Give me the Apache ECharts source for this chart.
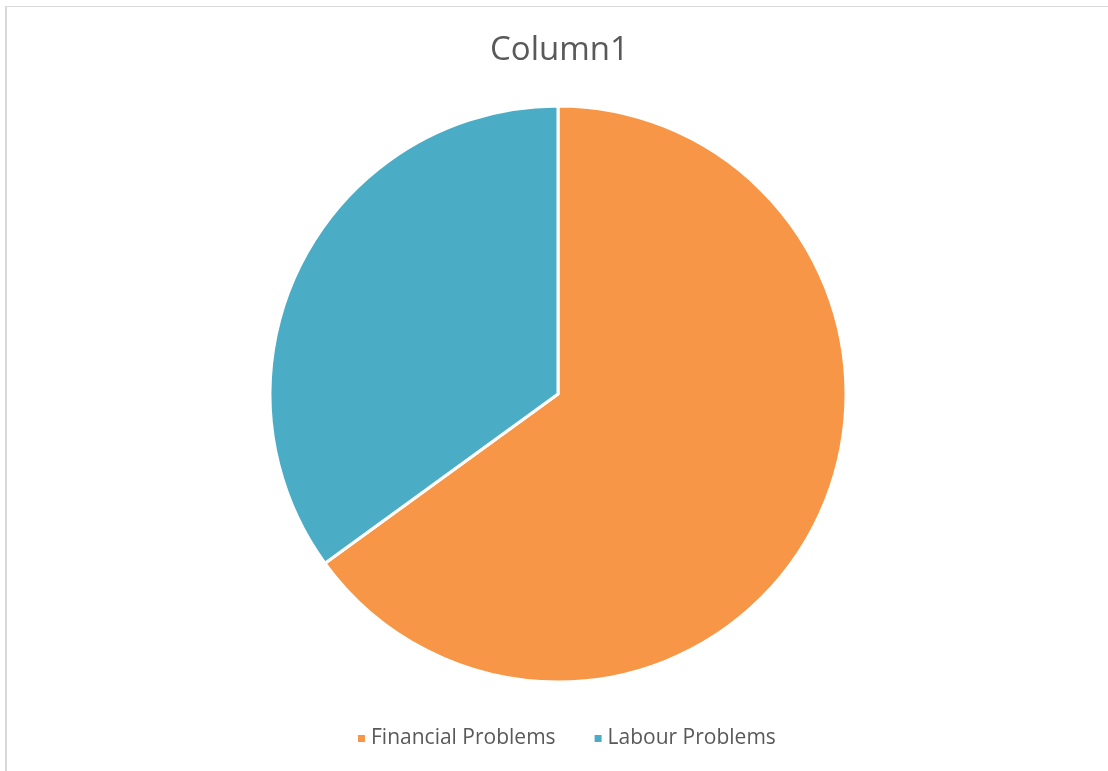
<!DOCTYPE html>
<html>
<head>
<meta charset="utf-8">
<script src="https://cdn.jsdelivr.net/npm/echarts@6/dist/echarts.min.js"></script>
<style>
  html, body { margin: 0; padding: 0; background: #ffffff; }
  #frame {
    position: absolute; left: 5px; top: 6px; width: 1120px; height: 780px;
    border-top: 1px solid #d9d9d9; border-left: 2px solid #d9d9d9;
  }
  #chart { position: absolute; left: 0; top: 0; width: 1108px; height: 771px; }
</style>
</head>
<body>
<div id="frame"></div>
<div id="chart"></div>
<script>
// Share of problems reported
const categories = ['Financial Problems', 'Labour Problems'];
const values = [65, 35];
const colors = ['#F79646', '#4BACC6'];

const chart = echarts.init(document.getElementById('chart'), null, { renderer: 'canvas' });
chart.setOption({
  animation: false,
  title: {
    text: 'Column1',
    left: 485,
    top: 29,
    textStyle: { fontFamily: 'Open Sans', fontSize: 33, fontWeight: 'normal', color: '#595959' }
  },
  legend: {
    bottom: 17,
    left: 351,
    icon: 'rect',
    itemWidth: 9,
    itemHeight: 9,
    itemGap: 37,
    textStyle: { fontFamily: 'Open Sans', fontSize: 21, color: '#595959' },
    data: categories
  },
  series: [{
    type: 'pie',
    center: [558, 394],
    radius: [0, 288],
    startAngle: 90,
    clockwise: true,
    label: { show: false },
    labelLine: { show: false },
    itemStyle: { borderColor: '#ffffff', borderWidth: 3 },
    emphasis: { disabled: true },
    data: categories.map((name, i) => ({ name, value: values[i], itemStyle: { color: colors[i] } }))
  }]
});
</script>
</body>
</html>
